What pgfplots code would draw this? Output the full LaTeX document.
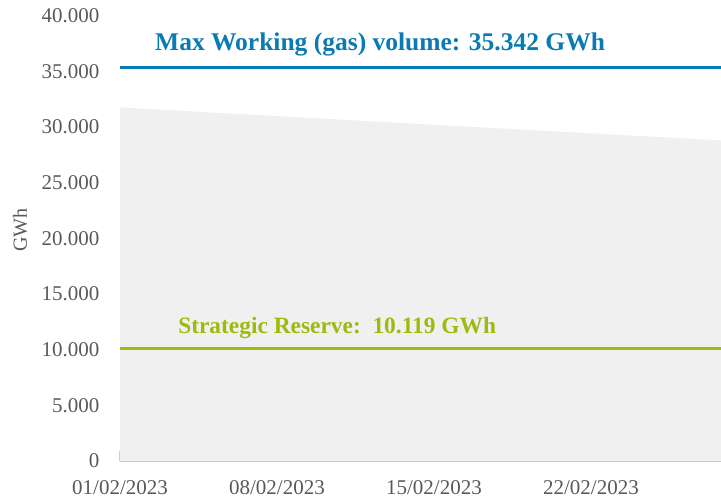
\documentclass[border=0pt]{standalone}
\usepackage{fontspec}
\setmainfont{Liberation Serif}
\usepackage{pgfplots}
\pgfplotsset{compat=1.18}
\definecolor{blueL}{HTML}{0A7AB3}
\definecolor{greenL}{HTML}{9CBB0F}
\definecolor{areaC}{HTML}{F0F0F0}
\definecolor{tickC}{HTML}{595959}
\definecolor{axC}{HTML}{C8C8C8}
\begin{document}
\begin{tikzpicture}[x=1pt,y=1pt]
\path[use as bounding box] (-120,-39) rectangle (601,461);
\begin{axis}[at={(0,0)}, anchor=south west, width=601pt, height=445.5pt, scale only axis,
 xmin=0, xmax=26.8, ymin=0, ymax=40000,
 axis x line*=bottom, axis y line*=left,
 y axis line style={draw=none},
 x axis line style={draw=axC, line width=1.5pt, -},
 ytick={0,5000,...,40000},
 ytick style={draw=none},
 xtick={0,7,14,21},
 xticklabels={01/02/2023,08/02/2023,15/02/2023,22/02/2023},
 minor xtick={0,...,26},
 tick align=inside,
 major tick length=10pt, minor tick length=6pt,
 xtick style={draw=axC, line width=1pt},
 ticklabel style={font=\fontsize{21}{24}\selectfont, text=tickC},
 yticklabel style={/pgf/number format/.cd, fixed, 1000 sep={.}, assume math mode=true, /tikz/.cd, xshift=-17pt},
 xticklabel style={yshift=-16pt},
 scaled y ticks=false,
 ylabel={\fontsize{20}{23}\selectfont GWh},
 ylabel style={at={(axis description cs:-0.1664,0.519)}, anchor=center, text=tickC},
]
\addplot[fill=areaC, draw=none] coordinates {
(0,31750) (1,31640) (2,31530) (3,31415) (4,31300) (5,31190) (6,31080) (7,30970)
(8,30860) (9,30750) (10,30635) (11,30520) (12,30410) (13,30300) (14,30190)
(15,30080) (16,29970) (17,29860) (18,29750) (19,29640) (20,29530) (21,29420)
(22,29310) (23,29200) (24,29090) (25,28980) (26,28870) (27,28760)
} \closedcycle;
\addplot[blueL, line width=3.5pt] coordinates {(0,35342) (27,35342)};
\addplot[greenL, line width=3pt] coordinates {(0,10119) (27,10119)};
\node[anchor=west, text=blueL, font=\bfseries\fontsize{25.5}{28}\selectfont, inner sep=0pt] at (axis cs:1.56,37400) {Max Working (gas) volume: 35.342 GWh};
\node[anchor=west, text=greenL, font=\bfseries\fontsize{23.4}{26}\selectfont, inner sep=0pt] at (axis cs:2.59,11930) {Strategic Reserve:\ \ 10.119 GWh};
\end{axis}
\end{tikzpicture}
\end{document}
